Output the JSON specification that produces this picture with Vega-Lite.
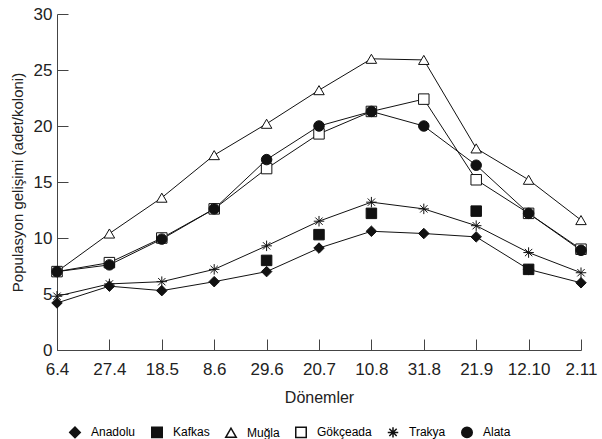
{
  "$schema": "https://vega.github.io/schema/vega-lite/v6.json",
  "width": 524,
  "height": 336,
  "autosize": "none",
  "padding": {"left": 57, "top": 14, "right": 21, "bottom": 89},
  "config": {
    "view": {"stroke": null},
    "font": "Liberation Sans",
    "axis": {"domainColor": "#444", "tickColor": "#444", "labelColor": "#222", "titleColor": "#222", "grid": false}
  },
  "data": {
    "values": [
      {"d": "6.4", "s": "Anadolu", "v": 4.2},
      {"d": "27.4", "s": "Anadolu", "v": 5.7},
      {"d": "18.5", "s": "Anadolu", "v": 5.3},
      {"d": "8.6", "s": "Anadolu", "v": 6.1},
      {"d": "29.6", "s": "Anadolu", "v": 7.0},
      {"d": "20.7", "s": "Anadolu", "v": 9.1},
      {"d": "10.8", "s": "Anadolu", "v": 10.6},
      {"d": "31.8", "s": "Anadolu", "v": 10.4},
      {"d": "21.9", "s": "Anadolu", "v": 10.1},
      {"d": "12.10", "s": "Anadolu", "v": 7.2},
      {"d": "2.11", "s": "Anadolu", "v": 6.0},
      {"d": "29.6", "s": "Kafkas", "v": 8.0},
      {"d": "20.7", "s": "Kafkas", "v": 10.3},
      {"d": "10.8", "s": "Kafkas", "v": 12.2},
      {"d": "21.9", "s": "Kafkas", "v": 12.4},
      {"d": "12.10", "s": "Kafkas", "v": 7.2},
      {"d": "6.4", "s": "Muğla", "v": 7.0},
      {"d": "27.4", "s": "Muğla", "v": 10.4},
      {"d": "18.5", "s": "Muğla", "v": 13.6},
      {"d": "8.6", "s": "Muğla", "v": 17.4},
      {"d": "29.6", "s": "Muğla", "v": 20.2},
      {"d": "20.7", "s": "Muğla", "v": 23.2},
      {"d": "10.8", "s": "Muğla", "v": 26.0},
      {"d": "31.8", "s": "Muğla", "v": 25.9},
      {"d": "21.9", "s": "Muğla", "v": 18.0},
      {"d": "12.10", "s": "Muğla", "v": 15.2},
      {"d": "2.11", "s": "Muğla", "v": 11.6},
      {"d": "6.4", "s": "Gökçeada", "v": 7.0},
      {"d": "27.4", "s": "Gökçeada", "v": 7.8},
      {"d": "18.5", "s": "Gökçeada", "v": 10.0},
      {"d": "8.6", "s": "Gökçeada", "v": 12.6},
      {"d": "29.6", "s": "Gökçeada", "v": 16.2},
      {"d": "20.7", "s": "Gökçeada", "v": 19.3},
      {"d": "10.8", "s": "Gökçeada", "v": 21.3},
      {"d": "31.8", "s": "Gökçeada", "v": 22.4},
      {"d": "21.9", "s": "Gökçeada", "v": 15.2},
      {"d": "12.10", "s": "Gökçeada", "v": 12.2},
      {"d": "2.11", "s": "Gökçeada", "v": 9.0},
      {"d": "6.4", "s": "Trakya", "v": 4.8},
      {"d": "27.4", "s": "Trakya", "v": 5.9},
      {"d": "18.5", "s": "Trakya", "v": 6.1},
      {"d": "8.6", "s": "Trakya", "v": 7.2},
      {"d": "29.6", "s": "Trakya", "v": 9.3},
      {"d": "20.7", "s": "Trakya", "v": 11.5},
      {"d": "10.8", "s": "Trakya", "v": 13.2},
      {"d": "31.8", "s": "Trakya", "v": 12.6},
      {"d": "21.9", "s": "Trakya", "v": 11.1},
      {"d": "12.10", "s": "Trakya", "v": 8.7},
      {"d": "2.11", "s": "Trakya", "v": 6.9},
      {"d": "6.4", "s": "Alata", "v": 7.0},
      {"d": "27.4", "s": "Alata", "v": 7.6},
      {"d": "18.5", "s": "Alata", "v": 9.9},
      {"d": "8.6", "s": "Alata", "v": 12.6},
      {"d": "29.6", "s": "Alata", "v": 17.0},
      {"d": "20.7", "s": "Alata", "v": 20.0},
      {"d": "10.8", "s": "Alata", "v": 21.3},
      {"d": "31.8", "s": "Alata", "v": 20.0},
      {"d": "21.9", "s": "Alata", "v": 16.5},
      {"d": "12.10", "s": "Alata", "v": 12.2},
      {"d": "2.11", "s": "Alata", "v": 8.9}
    ]
  },
  "encoding": {
    "x": {
      "field": "d", "type": "ordinal",
      "sort": ["6.4","27.4","18.5","8.6","29.6","20.7","10.8","31.8","21.9","12.10","2.11"],
      "scale": {"type": "point", "padding": 0},
      "axis": {"title": "Dönemler", "labelAngle": 0, "labelFontSize": 17, "titleFontSize": 16, "titleFontWeight": "normal", "tickSize": -11, "labelPadding": 22, "titlePadding": 12, "labelOverlap": false}
    },
    "y": {
      "field": "v", "type": "quantitative",
      "scale": {"domain": [0, 30], "nice": false},
      "axis": {"title": "Populasyon gelişimi (adet/koloni)", "values": [0,5,10,15,20,25,30], "labelFontSize": 17, "titleFontSize": 15, "titleFontWeight": "normal", "tickSize": -11, "labelPadding": 16, "titlePadding": 8}
    }
  },
  "layer": [
    {
      "transform": [{"filter": "datum.s !== 'Kafkas'"}],
      "mark": {"type": "line", "color": "#111", "strokeWidth": 1},
      "encoding": {"detail": {"field": "s"}}
    },
    {
      "mark": {"type": "point", "filled": true, "stroke": "#111", "strokeWidth": 1, "size": 110, "opacity": 1},
      "encoding": {
        "shape": {
          "field": "s", "type": "nominal",
          "scale": {
            "domain": ["Anadolu", "Kafkas", "Muğla", "Gökçeada", "Trakya", "Alata"],
            "range": ["diamond", "square", "triangle-up", "square", "M0,-1L0,1M-1,0L1,0M-0.7,-0.7L0.7,0.7M-0.7,0.7L0.7,-0.7", "circle"]
          },
          "legend": {"title": null, "orient": "bottom", "direction": "horizontal", "offset": 9, "padding": 12, "labelFontSize": 12, "symbolSize": 110, "columnPadding": 12, "labelOffset": 10, "encode": {"symbols": {"update": {"stroke": {"value": "#111"}, "strokeWidth": {"value": 1}}}}}
        },
        "fill": {
          "field": "s", "type": "nominal",
          "scale": {
            "domain": ["Anadolu", "Kafkas", "Muğla", "Gökçeada", "Trakya", "Alata"],
            "range": ["#111", "#111", "#fff", "#fff", "#111", "#111"]
          },
          "legend": {"title": null, "orient": "bottom", "direction": "horizontal", "offset": 9, "padding": 12, "labelFontSize": 12, "symbolSize": 110, "columnPadding": 12, "labelOffset": 10, "encode": {"symbols": {"update": {"stroke": {"value": "#111"}, "strokeWidth": {"value": 1}}}}}
        }
      }
    }
  ]
}
